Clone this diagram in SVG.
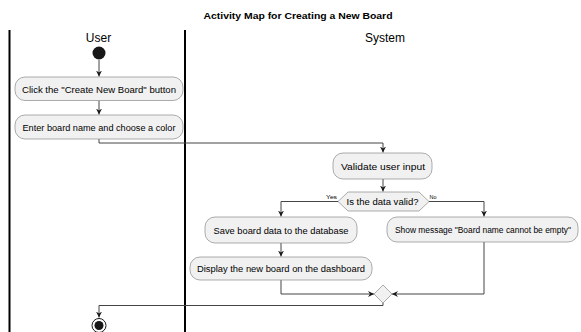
<svg xmlns="http://www.w3.org/2000/svg" width="581" height="332" viewBox="0 0 581 332">
<style>
  text { font-family: "Liberation Sans", Arial, sans-serif; fill: #000; }
  .title { font-size: 8.5px; font-weight: bold; text-anchor: middle; }
  .lane { font-size: 12px; text-anchor: middle; }
  .act { font-size: 8.5px; text-anchor: middle; }
  .lbl { font-size: 6px; }
  .box { fill: #F1F1F1; stroke: #8a8a8a; stroke-width: 0.7; }
  .sep { stroke: #000; stroke-width: 2; }
  .conn { fill: none; stroke: #454545; stroke-width: 1; }
</style>
<defs>
  <marker id="arr" markerUnits="userSpaceOnUse" markerWidth="8" markerHeight="8" refX="6" refY="3" orient="auto">
    <path d="M0,0 L6,3 L0,6 L2,3 Z" fill="#181818"/>
  </marker>
</defs>
<rect width="581" height="332" fill="#fff"/>
<text class="title" x="298" y="19" textLength="189" lengthAdjust="spacingAndGlyphs">Activity Map for Creating a New Board</text>

<g id="lanes">
  <line class="sep" x1="9.5" y1="30" x2="9.5" y2="332"/>
  <line class="sep" x1="185" y1="30" x2="185" y2="332"/>
  <text class="lane" x="98.5" y="42">User</text>
  <text class="lane" x="385" y="42">System</text>
</g>

<g id="connectors">
  <path class="conn" d="M99,60 V76.5" marker-end="url(#arr)"/>
  <path class="conn" d="M99,100.5 V114.5" marker-end="url(#arr)"/>
  <path class="conn" d="M99,139 V143 H383 V152.5" marker-end="url(#arr)"/>
  <path class="conn" d="M383,179 V191.5" marker-end="url(#arr)"/>
  <path class="conn" d="M338,201.5 H281 V216.5" marker-end="url(#arr)"/>
  <path class="conn" d="M429,201.5 H484 V216.5" marker-end="url(#arr)"/>
  <path class="conn" d="M281,243 V256.5" marker-end="url(#arr)"/>
  <path class="conn" d="M281,280 V294 H374" marker-end="url(#arr)"/>
  <path class="conn" d="M484,242 V294 H392" marker-end="url(#arr)"/>
  <path class="conn" d="M383,303 V305.5 H99 V317.5" marker-end="url(#arr)"/>
  <text class="lbl" x="326" y="199" textLength="11" lengthAdjust="spacingAndGlyphs">Yes</text>
  <text class="lbl" x="429.5" y="199" textLength="7" lengthAdjust="spacingAndGlyphs">No</text>
</g>

<g id="start">
  <circle cx="99" cy="53" r="6.5" fill="#181818"/>
</g>

<g id="click">
  <rect class="box" x="15" y="77" width="168" height="23.5" rx="10" ry="10"/>
  <text class="act" x="99" y="92.5" textLength="154" lengthAdjust="spacingAndGlyphs">Click the "Create New Board" button</text>
</g>

<g id="enter">
  <rect class="box" x="15" y="115" width="168" height="24" rx="10" ry="10"/>
  <text class="act" x="99" y="130.5" textLength="153" lengthAdjust="spacingAndGlyphs">Enter board name and choose a color</text>
</g>

<g id="validate">
  <rect class="box" x="333" y="153" width="99" height="26" rx="10" ry="10"/>
  <text class="act" x="383" y="169.5" textLength="84" lengthAdjust="spacingAndGlyphs">Validate user input</text>
</g>

<g id="decision">
  <polygon class="box" points="338,201.5 348,192 419,192 429,201.5 419,211 348,211"/>
  <text class="act" x="382.5" y="204.5" textLength="72" lengthAdjust="spacingAndGlyphs">Is the data valid?</text>
</g>

<g id="save">
  <rect class="box" x="205" y="217" width="152" height="26" rx="10" ry="10"/>
  <text class="act" x="281" y="233.5" textLength="135" lengthAdjust="spacingAndGlyphs">Save board data to the database</text>
</g>

<g id="display">
  <rect class="box" x="190" y="257" width="182" height="23" rx="10" ry="10"/>
  <text class="act" x="281" y="271.5" textLength="168" lengthAdjust="spacingAndGlyphs">Display the new board on the dashboard</text>
</g>

<g id="show">
  <rect class="box" x="387" y="217" width="191" height="25" rx="10" ry="10"/>
  <text class="act" x="483" y="233" textLength="176" lengthAdjust="spacingAndGlyphs">Show message "Board name cannot be empty"</text>
</g>

<g id="merge">
  <polygon class="box" points="383,285 392,294 383,303 374,294"/>
</g>

<g id="end">
  <circle cx="99" cy="325.5" r="7" fill="none" stroke="#181818" stroke-width="1"/>
  <circle cx="99" cy="325.5" r="4.5" fill="#181818"/>
</g>
</svg>
